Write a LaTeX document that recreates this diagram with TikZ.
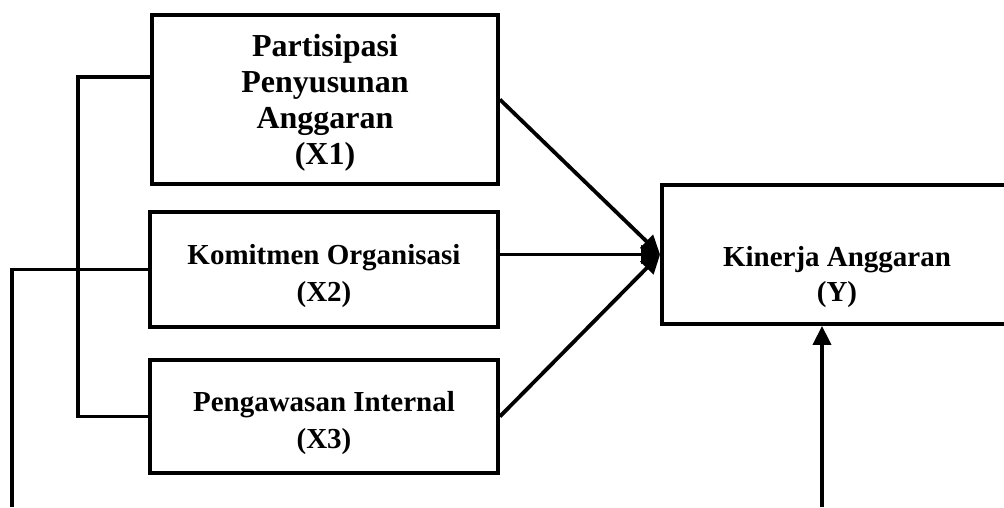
\documentclass[tikz,border=0pt]{standalone}
\usepackage{fontspec}
\setmainfont{Liberation Serif}
\usetikzlibrary{arrows.meta,calc}
\tikzset{
  box/.style={draw, line width=3.8pt, rectangle, inner sep=0pt},
  lbl/.style={align=center, inner sep=0pt, font=\bfseries\fontsize{29}{37}\selectfont},
  conn/.style={line width=3.8pt},
  arr/.style={line width=3.8pt, -{Triangle[length=19pt,width=18pt]}}
}
\begin{document}
\begin{tikzpicture}[x=1pt,y=-1pt]
\useasboundingbox (0,0) rectangle (1004,507);
\clip (0,0) rectangle (1004,507);
\node[box, minimum width=346pt, minimum height=169pt] (x1) at (325,99.5) {};
\node[box, minimum width=348pt, minimum height=115pt] (x2) at (324,269.5) {};
\node[box, minimum width=348pt, minimum height=113pt] (x3) at (324,416.5) {};
\node[box, minimum width=350pt, minimum height=139pt] (y) at (837,254.5) {};
\node[lbl, font=\bfseries\fontsize{32}{36}\selectfont] (t1) at (325,103)
  {Partisipasi\\Penyusunan\\Anggaran\\(X1)};
\node[lbl] (t2) at (324,276) {Komitmen Organisasi\\(X2)};
\node[lbl] (t3) at (324,423) {Pengawasan Internal\\(X3)};
\node[lbl, font=\bfseries\fontsize{29}{35}\selectfont] (ty) at (837,277) {Kinerja Anggaran\\(Y)};
\coordinate (bt) at (78,77);
\coordinate (bl) at (12,507);
\coordinate (bb) at (822,507);
\draw[arr] (x1.east) -- (y.west);
\draw[arr] (x2.east |- y.west) -- (y.west);
\draw[arr] (x3.east) -- (y.west);
\draw[arr] (bb) -- (bb |- y.south);
\draw[conn] (x1.west |- bt) -- (bt) -- (bt |- x3.west) -- (x3.west);
\draw[conn] (x2.west) -- (bl |- x2.west) -- (bl);
\end{tikzpicture}
\end{document}
